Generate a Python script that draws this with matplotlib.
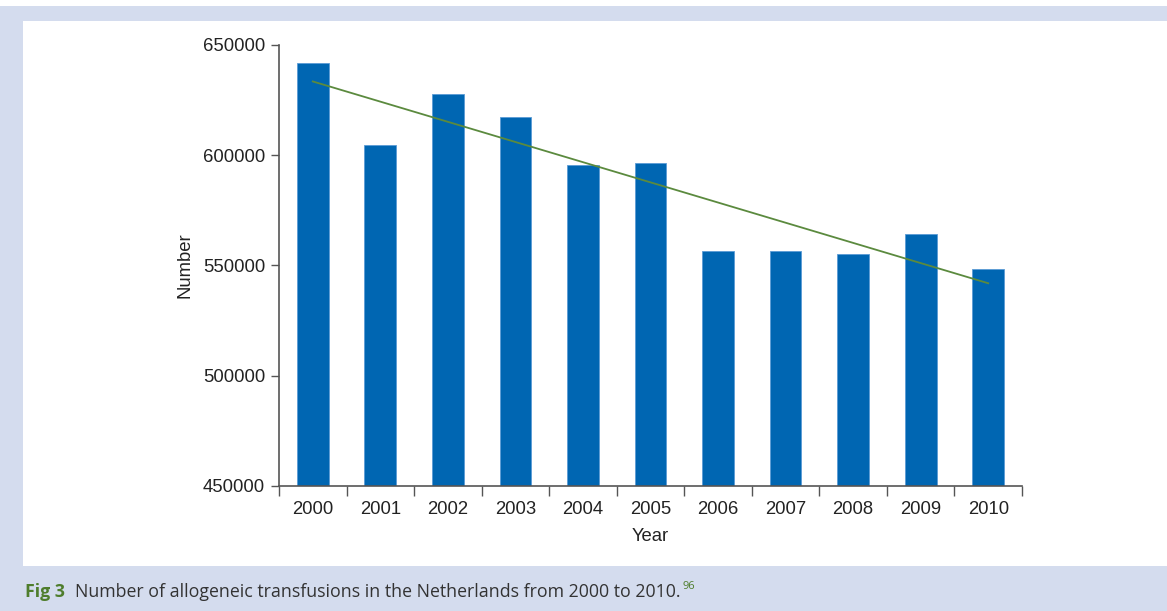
import matplotlib
matplotlib.use("Agg")
import matplotlib.pyplot as plt
import numpy as np
from matplotlib.patches import Rectangle

years = ["2000", "2001", "2002", "2003", "2004", "2005",
         "2006", "2007", "2008", "2009", "2010"]
transfusions = [641800, 604700, 627800, 617300, 595600, 596500,
                556600, 556600, 555200, 564300, 548400]
y_ticks = [450000, 500000, 550000, 600000, 650000]

BAR_COLOR = "#0066b2"
TREND_COLOR = "#5b8a3e"
PANEL_BG = "#d4dcee"

plt.rcParams["font.family"] = ["Liberation Sans", "DejaVu Sans"]

fig = plt.figure(figsize=(11.67, 6.11), dpi=100)
fig.patch.set_facecolor(PANEL_BG)

W, H = 1167, 611
# white strip at very top, then the white chart panel
fig.patches.append(Rectangle((0, 1 - 6 / H), 1, 6 / H, transform=fig.transFigure,
                             facecolor="white", edgecolor="none", zorder=-1))
fig.patches.append(Rectangle((23 / W, 1 - 566 / H), 1 - 23 / W, (566 - 21) / H,
                             transform=fig.transFigure, facecolor="white",
                             edgecolor="none", zorder=-1))

ax = fig.add_axes([279 / W, 1 - 486 / H, (1022 - 279) / W, (486 - 45) / H])
ax.set_zorder(2)
ax.set_facecolor("white")

x = np.arange(len(years))
ax.bar(x, transfusions, width=0.47, color=BAR_COLOR, edgecolor="#5a9bd5",
       linewidth=0.6, zorder=2)

# linear trend line
slope, intercept = np.polyfit(x, transfusions, 1)
ax.plot([x[0], x[-1]], [intercept + slope * x[0], intercept + slope * x[-1]],
        color=TREND_COLOR, linewidth=1.3, zorder=3)

ax.set_xlim(-0.5, len(years) - 0.5)
ax.set_ylim(450000, 650000)
ax.set_yticks(y_ticks)
ax.set_yticklabels([str(v) for v in y_ticks], fontsize=13.3, color="#222222")

# x ticks at category boundaries, labels centred under bars
ax.set_xticks(np.arange(-0.5, len(years), 1.0))
ax.set_xticklabels([])
ax.set_xticks(x, minor=True)
ax.set_xticklabels(years, minor=True, fontsize=13.3, color="#222222")
ax.tick_params(axis="x", which="minor", length=0, pad=11)
ax.tick_params(axis="x", which="major", length=7, width=1, color="#555555")
ax.tick_params(axis="y", length=6, width=1, color="#555555", pad=4)

for side in ["top", "right"]:
    ax.spines[side].set_visible(False)
for side in ["left", "bottom"]:
    ax.spines[side].set_color("#555555")
    ax.spines[side].set_linewidth(1.2)

ax.set_xlabel("Year", fontsize=13.3, color="#222222", labelpad=7)
ax.set_ylabel("Number", fontsize=13.3, color="#222222", labelpad=7)

# caption
cap_font = ["Open Sans", "DejaVu Sans"]
fig.text(25 / W, 1 - 597 / H, "Fig 3", fontsize=12.8, fontweight="bold",
         color="#4e7d2c", family=cap_font, va="baseline")
cap = fig.text(75 / W, 1 - 597 / H,
               "Number of allogeneic transfusions in the Netherlands from 2000 to 2010.",
               fontsize=12.8, color="#333333", family=cap_font, va="baseline")
fig.canvas.draw()
bb = cap.get_window_extent()
fig.text((bb.x1 + 2) / W, 1 - 589 / H, "96", fontsize=8, color="#4e7d2c",
         family=cap_font, va="baseline")

fig.savefig("out.png", dpi=100, facecolor=fig.get_facecolor())
